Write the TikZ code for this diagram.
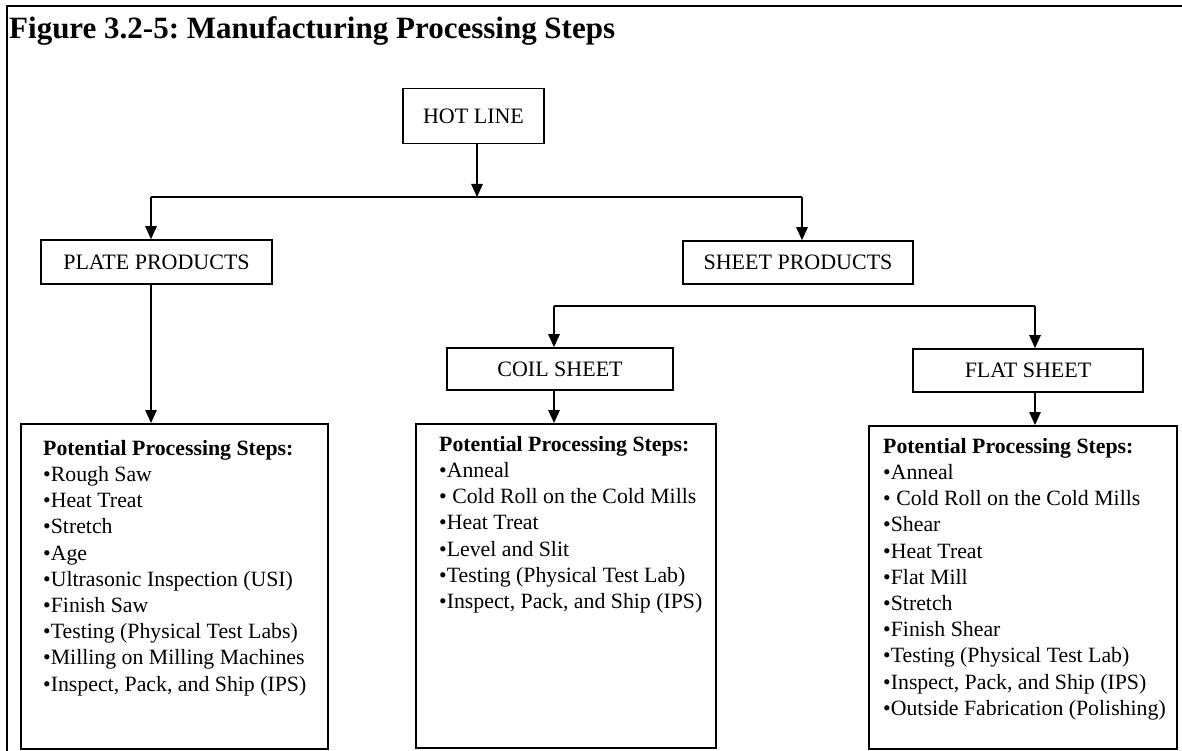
\documentclass[tikz,border=0pt]{standalone}
\usepackage{fontspec}
\setmainfont{Liberation Serif}
\usetikzlibrary{arrows.meta}
\frenchspacing
\begin{document}
\begin{tikzpicture}[x=1pt,y=-1pt,
  every node/.style={font=\fontsize{21.8}{26.2}\selectfont},
  labelbox/.style={draw, line width=1.7pt, inner sep=0pt, font=\fontsize{22}{26}\selectfont},
  stepsbox/.style={draw, line width=1.7pt, inner sep=0pt, anchor=north west},
  stepslist/.style={inner sep=0pt, anchor=north west, align=left},
  link/.style={line width=1.4pt},
  arr/.style={link, -{Triangle[length=13pt,width=11.5pt]}}]
\useasboundingbox (0,0) rectangle (1182,751);

% outer frame (top and left edges)
\draw[line width=1.9pt] (7,751) -- (7,6) -- (1182,6);

% title
\node[anchor=base west, inner sep=0pt, font=\fontsize{31}{35}\selectfont\bfseries] (title) at (9,39)
  {Figure 3.2-5: Manufacturing Processing Steps};

% product boxes
\node[labelbox, minimum width=141pt, minimum height=55pt] (hot) at (473.5,116) {HOT LINE};
\node[labelbox, minimum width=231pt, minimum height=44pt] (plate) at (156.5,262) {PLATE PRODUCTS};
\node[labelbox, minimum width=230pt, minimum height=43pt] (sheet) at (798,262.5) {SHEET PRODUCTS};
\node[labelbox, minimum width=226pt, minimum height=42pt] (coil) at (560,369) {COIL SHEET};
\node[labelbox, minimum width=230pt, minimum height=43pt] (flat) at (1028,370.5) {FLAT SHEET};

% processing step boxes
\node[stepsbox, minimum width=307pt, minimum height=325pt] (platesteps) at (20,423) {};
\node[stepsbox, minimum width=300pt, minimum height=324pt] (coilsteps) at (415,423) {};
\node[stepsbox, minimum width=308pt, minimum height=323pt] (flatsteps) at (868,425) {};

\node[stepslist] (platelist) at ([xshift=23pt,yshift=-17pt]platesteps.north west)
  {\textbf{Potential Processing Steps:}\\
   •Rough Saw\\
   •Heat Treat\\
   •Stretch\\
   •Age\\
   •Ultrasonic Inspection (USI)\\
   •Finish Saw\\
   •Testing (Physical Test Labs)\\
   •Milling on Milling Machines\\
   •Inspect, Pack, and Ship (IPS)};

\node[stepslist] (coillist) at ([xshift=24pt,yshift=-13pt]coilsteps.north west)
  {\textbf{Potential Processing Steps:}\\
   •Anneal\\
   •~Cold Roll on the Cold Mills\\
   •Heat Treat\\
   •Level and Slit\\
   •Testing (Physical Test Lab)\\
   •Inspect, Pack, and Ship (IPS)};

\node[stepslist] (flatlist) at ([xshift=15pt,yshift=-13pt]flatsteps.north west)
  {\textbf{Potential Processing Steps:}\\
   •Anneal\\
   •~Cold Roll on the Cold Mills\\
   •Shear\\
   •Heat Treat\\
   •Flat Mill\\
   •Stretch\\
   •Finish Shear\\
   •Testing (Physical Test Lab)\\
   •Inspect, Pack, and Ship (IPS)\\
   •Outside Fabrication (Polishing)};

% branching connectors
\coordinate (hotdrop) at (477,197);
\coordinate (plateturn) at (151,197);
\coordinate (sheetturn) at (802,197);
\coordinate (coilturn) at (554,306);
\coordinate (flatturn) at (1035,306);

\draw[link] (plateturn) -- (sheetturn);
\draw[arr] (hot.south -| hotdrop) -- (hotdrop);
\draw[arr] (plateturn) -- (plateturn |- plate.north);
\draw[arr] (sheetturn) -- (sheetturn |- sheet.north);

\draw[link] (coilturn) -- (flatturn);
\draw[arr] (coilturn) -- (coilturn |- coil.north);
\draw[arr] (flatturn) -- (flatturn |- flat.north);

\draw[arr] (plateturn |- plate.south) -- (plateturn |- platesteps.north);
\draw[arr] (coilturn |- coil.south) -- (coilturn |- coilsteps.north);
\draw[arr] (flatturn |- flat.south) -- (flatturn |- flatsteps.north);
\end{tikzpicture}
\end{document}
